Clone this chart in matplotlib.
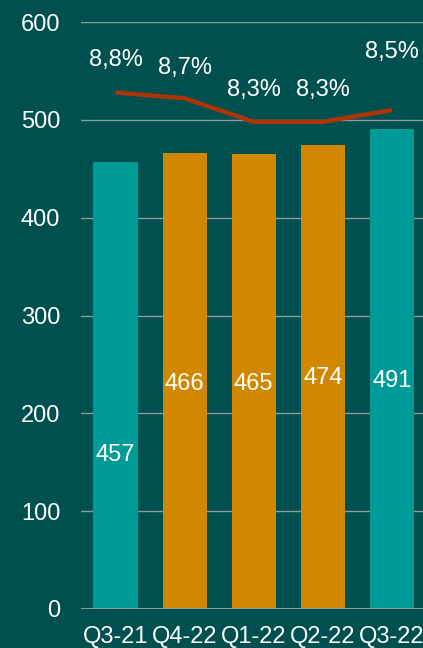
import matplotlib
matplotlib.use('agg')
import matplotlib.pyplot as plt
import numpy as np

# Data
quarters = ['Q3-21', 'Q4-22', 'Q1-22', 'Q2-22', 'Q3-22']
volumes = [457, 466, 465, 474, 491]
margin_pct = [8.8, 8.7, 8.3, 8.3, 8.5]
bar_label_y = [157, 230, 230, 236, 233]
pct_label_offset = [32, 30, 32, 32, 58]

bg = '#00504f'
teal = '#009b96'
orange = '#d18700'
line_col = '#ac3407'
grid_col = '#8c9c9b'

plt.rcParams['font.family'] = ['Liberation Sans', 'DejaVu Sans']
fs = 17

fig = plt.figure(figsize=(4.23, 6.48), dpi=100)
fig.patch.set_facecolor(bg)
ax = fig.add_axes([0.1915, 0.0602, 0.8085, 0.9058])
ax.set_facecolor(bg)

x = np.arange(len(quarters))
colors = [teal if q.startswith('Q3') else orange for q in quarters]
ax.bar(x, volumes, width=0.64, color=colors, zorder=3)

ax.set_ylim(0, 600)
ax.set_xlim(-0.5, 4.45)
ax.set_yticks(np.arange(0, 601, 100))
ax.yaxis.grid(True, color=grid_col, linewidth=1.0, zorder=0)
ax.set_axisbelow(True)
for s in ax.spines.values():
    s.set_visible(False)
ax.axhline(0, color=grid_col, linewidth=1.5, zorder=4)
ax.tick_params(axis='both', length=0, colors='white', labelsize=fs)
ax.tick_params(axis='y', pad=15)
ax.tick_params(axis='x', pad=12)
ax.set_xticks(x)
ax.set_xticklabels(quarters)

for xi, v, ly in zip(x, volumes, bar_label_y):
    ax.text(xi, ly, str(v), ha='center', va='center', color='white',
            fontsize=fs, zorder=5)

# Margin line on secondary axis
ax2 = ax.twinx()
ax2.set_ylim(0, 10)
ax2.set_xlim(ax.get_xlim())
ax2.axis('off')
ax2.plot(x, margin_pct, color=line_col, linewidth=3.2, zorder=6,
         solid_capstyle='butt')
for xi, p, off in zip(x, margin_pct, pct_label_offset):
    ax2.annotate(f'{p:.1f}%'.replace('.', ','), (xi, p), xytext=(0, off),
                 textcoords='offset pixels', ha='center', va='center',
                 color='white', fontsize=fs)

fig.savefig('out.png', dpi=100, facecolor=bg)
